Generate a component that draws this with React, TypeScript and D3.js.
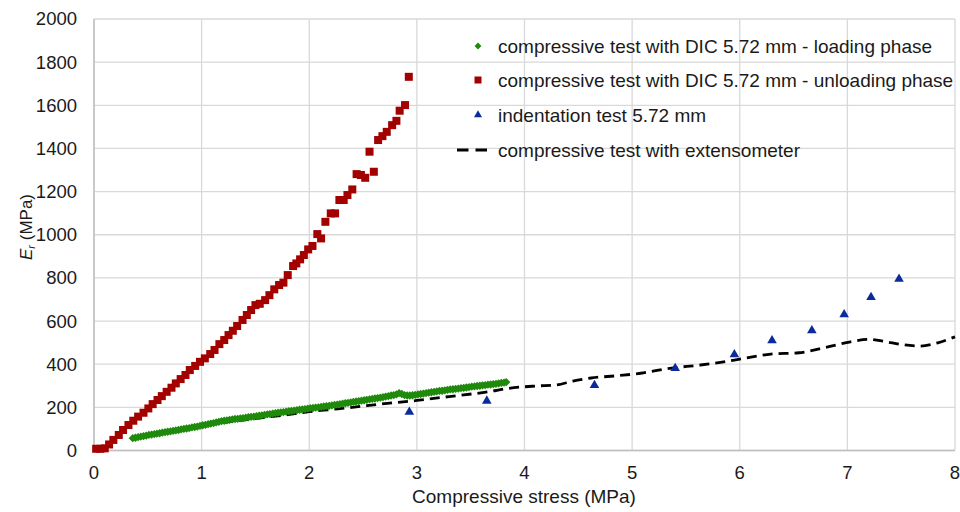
import React, { useEffect, useRef } from 'react';
import * as d3 from 'd3';

// x = compressive stress (MPa), y = Er (MPa)
const loadingX = [0.36, 0.385, 0.41, 0.435, 0.46, 0.485, 0.51, 0.535, 0.56, 0.585, 0.61, 0.635, 0.66, 0.685, 0.71, 0.735, 0.76, 0.785, 0.81, 0.835, 0.86, 0.885, 0.91, 0.935, 0.96, 0.985, 1.01, 1.035, 1.06, 1.085, 1.11, 1.135, 1.16, 1.185, 1.21, 1.235, 1.26, 1.285, 1.31, 1.335, 1.36, 1.385, 1.41, 1.435, 1.46, 1.485, 1.51, 1.535, 1.56, 1.585, 1.61, 1.635, 1.66, 1.685, 1.71, 1.735, 1.76, 1.785, 1.81, 1.835, 1.86, 1.885, 1.91, 1.935, 1.96, 1.985, 2.01, 2.035, 2.06, 2.085, 2.11, 2.135, 2.16, 2.185, 2.21, 2.235, 2.26, 2.285, 2.31, 2.335, 2.36, 2.385, 2.41, 2.435, 2.46, 2.485, 2.51, 2.535, 2.56, 2.585, 2.61, 2.635, 2.66, 2.685, 2.71, 2.735, 2.76, 2.785, 2.81, 2.835, 2.86, 2.885, 2.91, 2.935, 2.96, 2.985, 3.01, 3.035, 3.06, 3.085, 3.11, 3.135, 3.16, 3.185, 3.21, 3.235, 3.26, 3.285, 3.31, 3.335, 3.36, 3.385, 3.41, 3.435, 3.46, 3.485, 3.51, 3.535, 3.56, 3.585, 3.61, 3.635, 3.66, 3.685, 3.71, 3.735, 3.76, 3.785, 3.81, 3.83];
const loadingY = [57, 59, 62, 64, 67, 69, 72, 74, 76, 78, 80, 83, 85, 87, 89, 91, 93, 95, 98, 100, 102, 104, 107, 109, 111, 114, 117, 119, 122, 125, 127, 130, 133, 136, 138, 140, 142, 144, 146, 147, 149, 150, 152, 154, 156, 157, 159, 161, 163, 165, 167, 169, 171, 173, 175, 176, 178, 180, 182, 183, 185, 187, 189, 190, 192, 194, 196, 197, 199, 200, 202, 204, 206, 207, 209, 211, 213, 215, 217, 219, 221, 223, 225, 227, 229, 231, 233, 235, 237, 239, 241, 243, 245, 247, 250, 252, 255, 257, 260, 266, 262, 257, 255, 255, 256, 258, 260, 262, 264, 266, 268, 270, 272, 274, 276, 277, 279, 281, 283, 284, 286, 287, 289, 290, 292, 294, 296, 297, 299, 300, 302, 303, 305, 306, 308, 309, 311, 313, 315, 317];

const unloadingX = [0.02, 0.06, 0.10, 0.14, 0.18, 0.23, 0.27, 0.32, 0.365, 0.41, 0.46, 0.505, 0.545, 0.59, 0.63, 0.675, 0.72, 0.76, 0.805, 0.85, 0.89, 0.94, 0.985, 1.03, 1.08, 1.12, 1.165, 1.21, 1.25, 1.29, 1.33, 1.38, 1.42, 1.46, 1.50, 1.54, 1.59, 1.63, 1.675, 1.72, 1.76, 1.80, 1.85, 1.88, 1.915, 1.95, 1.99, 2.03, 2.075, 2.11, 2.15, 2.20, 2.24, 2.28, 2.32, 2.355, 2.40, 2.44, 2.48, 2.52, 2.56, 2.60, 2.64, 2.68, 2.72, 2.77, 2.81, 2.84, 2.89, 2.925];
const unloadingY = [8, 8, 10, 28, 49, 72, 95, 118, 138, 157, 175, 195, 215, 234, 252, 272, 291, 311, 331, 350, 373, 392, 411, 427, 447, 466, 493, 512, 535, 555, 577, 605, 628, 651, 674, 680, 697, 720, 747, 767, 778, 813, 855, 867, 886, 906, 932, 948, 1003, 983, 1060, 1099, 1099, 1161, 1161, 1184, 1210, 1281, 1277, 1264, 1385, 1292, 1439, 1457, 1477, 1508, 1528, 1575, 1601, 1732];

const indentX = [2.93, 3.65, 4.65, 5.40, 5.95, 6.30, 6.67, 6.97, 7.22, 7.48];
const indentY = [178, 230, 302, 381, 445, 510, 556, 630, 710, 795];

const extensoX = [1.2, 1.4, 1.6, 1.8, 2.0, 2.2, 2.4, 2.66, 3.0, 3.3, 3.66, 3.85, 4.11, 4.3, 4.45, 4.62, 4.87, 5.08, 5.35, 5.63, 5.87, 6.03, 6.29, 6.55, 6.80, 7.03, 7.20, 7.36, 7.49, 7.67, 7.84, 8.0];
const extensoY = [130, 142, 154, 166, 180, 190, 200, 215, 232, 250, 272, 288, 299, 304, 322, 336, 347, 358, 381, 396, 412, 426, 447, 453, 478, 504, 515, 504, 492, 484, 499, 527];

const xTicks = [0, 1, 2, 3, 4, 5, 6, 7, 8];
const yTicks = [0, 200, 400, 600, 800, 1000, 1200, 1400, 1600, 1800, 2000];

const legendLabels = [
  'compressive test with DIC 5.72 mm - loading phase',
  'compressive test with DIC 5.72 mm - unloading phase',
  'indentation test 5.72 mm',
  'compressive test with extensometer',
];

const GREEN = '#1f8a0c';
const RED = '#a30000';
const BLUE = '#0b2a9c';
const FONT = 'Arial, "Liberation Sans", sans-serif';

const App: React.FC = () => {
  const svgRef = useRef<SVGSVGElement>(null);

  useEffect(() => {
    if (!svgRef.current) return;
    const svg = d3.select(svgRef.current);
    svg.selectAll('*').remove();

    const x = d3.scaleLinear().domain([0, 8]).range([94, 955]);
    const y = d3.scaleLinear().domain([0, 2000]).range([450.5, 19]);

    // grid
    const grid = svg.append('g');
    yTicks.forEach(t => {
      grid.append('line')
        .attr('x1', x(0)).attr('x2', x(8))
        .attr('y1', y(t)).attr('y2', y(t))
        .attr('stroke', '#d9d9d9').attr('stroke-width', 1.3);
    });
    xTicks.forEach(t => {
      grid.append('line')
        .attr('x1', x(t)).attr('x2', x(t))
        .attr('y1', y(0)).attr('y2', y(2000))
        .attr('stroke', '#d9d9d9').attr('stroke-width', 1.3);
    });
    // axis lines
    svg.append('line').attr('x1', x(0)).attr('x2', x(0)).attr('y1', y(0)).attr('y2', y(2000))
      .attr('stroke', '#bfbfbf').attr('stroke-width', 1.5);
    svg.append('line').attr('x1', x(0)).attr('x2', x(8)).attr('y1', y(0)).attr('y2', y(0))
      .attr('stroke', '#bfbfbf').attr('stroke-width', 1.5);

    // tick labels
    svg.append('g').selectAll('text').data(yTicks).join('text')
      .attr('x', 77).attr('y', d => y(d)).attr('dy', '0.35em')
      .attr('text-anchor', 'end')
      .attr('font-family', FONT).attr('font-size', 18.5).attr('fill', '#1a1a1a')
      .text(d => d);
    svg.append('g').selectAll('text').data(xTicks).join('text')
      .attr('x', d => x(d)).attr('y', 479)
      .attr('text-anchor', 'middle')
      .attr('font-family', FONT).attr('font-size', 18.5).attr('fill', '#1a1a1a')
      .text(d => d);

    // axis titles
    svg.append('text')
      .attr('x', 524).attr('y', 503).attr('text-anchor', 'middle')
      .attr('font-family', FONT).attr('font-size', 19).attr('fill', '#1a1a1a')
      .text('Compressive stress (MPa)');
    const yt = svg.append('text')
      .attr('transform', `translate(32,227) rotate(-90)`).attr('text-anchor', 'middle')
      .attr('font-family', FONT).attr('font-size', 17).attr('fill', '#1a1a1a');
    yt.append('tspan').attr('font-style', 'italic').text('E');
    yt.append('tspan').attr('font-style', 'italic').attr('font-size', 11).attr('dy', 3).text('r');
    yt.append('tspan').attr('dy', -3).text(' (MPa)');

    // extensometer dashed line
    const line = d3.line<number>()
      .x((_, i) => x(extensoX[i]))
      .y(d => y(d))
      .curve(d3.curveMonotoneX);
    svg.append('path').datum(extensoY)
      .attr('d', line).attr('fill', 'none')
      .attr('stroke', '#000').attr('stroke-width', 2.8).attr('stroke-dasharray', '10,6');

    // loading (green diamonds)
    const diamond = d3.symbol().type(d3.symbolDiamond2).size(44);
    svg.append('g').selectAll('path').data(loadingY).join('path')
      .attr('transform', (d, i) => `translate(${x(loadingX[i])},${y(d)})`)
      .attr('d', diamond()).attr('fill', GREEN);

    // unloading (red squares)
    svg.append('g').selectAll('rect').data(unloadingY).join('rect')
      .attr('x', (_, i) => x(unloadingX[i]) - 4).attr('y', d => y(d) - 4)
      .attr('width', 8).attr('height', 8).attr('fill', RED);

    // indentation (blue triangles)
    const tri = d3.symbol().type(d3.symbolTriangle).size(40);
    svg.append('g').selectAll('path').data(indentY).join('path')
      .attr('transform', (d, i) => `translate(${x(indentX[i])},${y(d)})`)
      .attr('d', tri()).attr('fill', BLUE);

    // legend
    const lg = svg.append('g');
    const rows = [46, 80, 115, 150];
    lg.append('path').attr('transform', `translate(478,${rows[0]})`)
      .attr('d', d3.symbol().type(d3.symbolDiamond2).size(30)()).attr('fill', GREEN);
    lg.append('rect').attr('x', 474.5).attr('y', rows[1] - 3.5).attr('width', 7).attr('height', 7).attr('fill', RED);
    lg.append('path').attr('transform', `translate(478,${rows[2]})`)
      .attr('d', d3.symbol().type(d3.symbolTriangle).size(28)()).attr('fill', BLUE);
    lg.append('line').attr('x1', 457).attr('x2', 487).attr('y1', rows[3]).attr('y2', rows[3])
      .attr('stroke', '#000').attr('stroke-width', 2.8).attr('stroke-dasharray', '11.5,7');
    lg.selectAll('text').data(legendLabels).join('text')
      .attr('x', 498).attr('y', (_, i) => rows[i]).attr('dy', '0.35em')
      .attr('font-family', FONT).attr('font-size', 19).attr('fill', '#1a1a1a')
      .text(d => d);
  }, []);

  return (
    <div style={{ position: 'fixed', left: 0, top: 0, width: 960, height: 512, background: '#fff' }}>
      <svg ref={svgRef} width={960} height={512} style={{ display: 'block' }} />
    </div>
  );
};

export default App;
